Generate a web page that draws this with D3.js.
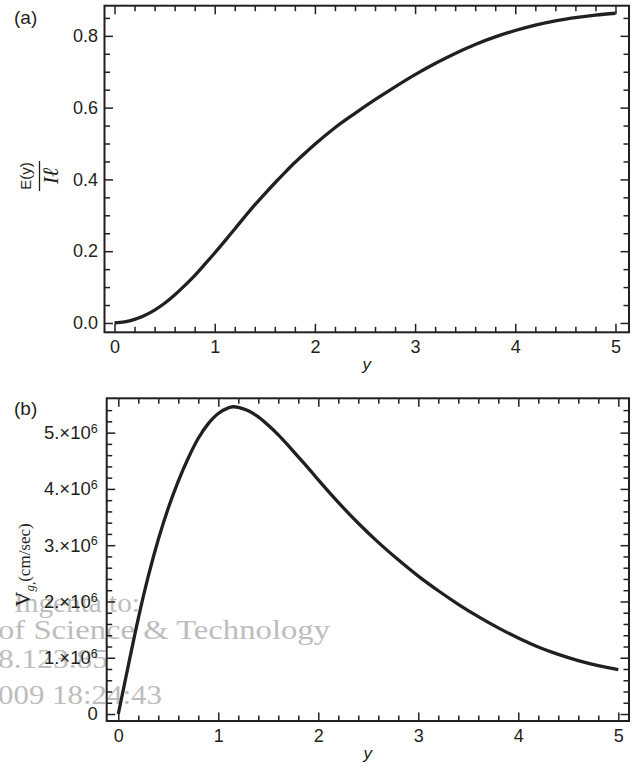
<!DOCTYPE html>
<meta charset="utf-8">
<style>
    body { margin: 0; background: #fff; }
    svg { display: block; font-family: "Liberation Sans", Arial, sans-serif; }
    .frame { fill: none; stroke: #231f20; stroke-width: 2px; }
    .curve { fill: none; stroke: #231f20; stroke-width: 3.3px; stroke-linejoin: round; stroke-linecap: butt; }
    .tick line { stroke: #231f20; stroke-width: 1.5px; }
    .tick text { font-size: 18px; fill: #231f20; font-family: "Liberation Sans", Arial, sans-serif; }
    .domain { display: none; }
    .wm { font-family: "Liberation Serif", "Times New Roman", serif; font-size: 28px; fill: #bdbdbd; }
</style>
<body>
<script src="https://d3js.org/d3.v7.min.js"></script>
<script>
    var width = 638, height = 767;

    // panel (a): E(y)/I vs y
    var yA = [0, 0.1, 0.2, 0.3, 0.4, 0.5, 0.6, 0.7, 0.8, 0.9, 1.0, 1.1, 1.2, 1.3, 1.4, 1.5, 1.6, 1.7, 1.8, 1.9, 2.0,
              2.2, 2.4, 2.6, 2.8, 3.0, 3.2, 3.4, 3.6, 3.8, 4.0, 4.2, 4.4, 4.6, 4.8, 5.0];
    var eA = [0, 0.003, 0.010, 0.021, 0.036, 0.055, 0.078, 0.104, 0.132, 0.163, 0.195, 0.228, 0.262, 0.296, 0.329,
              0.360, 0.390, 0.419, 0.447, 0.473, 0.498, 0.544, 0.584, 0.622, 0.658, 0.692, 0.723, 0.751, 0.776,
              0.797, 0.815, 0.830, 0.842, 0.851, 0.858, 0.863];

    // panel (b): group velocity Vg, in units of 1e6 cm/sec
    var yB = [0, 0.1, 0.2, 0.3, 0.4, 0.5, 0.6, 0.7, 0.8, 0.9, 1.0, 1.1, 1.15, 1.2, 1.3, 1.4, 1.5, 1.6, 1.7, 1.8, 1.9, 2.0,
              2.2, 2.4, 2.6, 2.8, 3.0, 3.2, 3.4, 3.6, 3.8, 4.0, 4.2, 4.4, 4.6, 4.8, 5.0];
    var vB = [0, 0.86, 1.70, 2.45, 3.10, 3.66, 4.14, 4.55, 4.90, 5.16, 5.34, 5.44, 5.46, 5.45, 5.39, 5.28, 5.13, 4.96,
              4.77, 4.57, 4.37, 4.16, 3.76, 3.39, 3.05, 2.74, 2.45, 2.19, 1.95, 1.73, 1.53, 1.35, 1.19, 1.06, 0.95,
              0.86, 0.79];

    var xTicks = [0, 1, 2, 3, 4, 5];
    var aTicks = [0, 0.2, 0.4, 0.6, 0.8];
    var bTicks = [0, 1, 2, 3, 4, 5];
    var bTickLabels = ["0", "1.\u00d710", "2.\u00d710", "3.\u00d710", "4.\u00d710", "5.\u00d710"];
    var bExponent = "6";
    var watermark = ["Ingenta to:", "of Science & Technology", "8.123.85", "009 18:24:43"];

    var svg = d3.select("body").append("svg")
        .attr("width", width)
        .attr("height", height);

    var xA = d3.scaleLinear().domain([-0.1, 5.135]).range([104.5, 629]);
    var sA = d3.scaleLinear().domain([-0.026, 0.884]).range([332.3, 5.7]);
    var xB = d3.scaleLinear().domain([-0.116, 5.107]).range([106.7, 629]);
    var sB = d3.scaleLinear().domain([-0.124, 5.61]).range([721, 398.3]);

    var minorX = d3.range(0, 5.001, 0.2).filter(function (v) { return Math.abs(v - Math.round(v)) > 1e-6; });
    var minorA = d3.range(0, 0.8501, 0.05).filter(function (v) { return Math.abs(v * 5 - Math.round(v * 5)) > 1e-6; });
    var minorB = d3.range(0, 5.4001, 0.2).filter(function (v) { return Math.abs(v - Math.round(v)) > 1e-6; });

    // watermark sits behind the plots
    var wm = svg.append("g");
    var wmPos = [[14, 612, 126], [-2, 639, 332], [-2, 668, 110], [-2, 704, 164]];
    watermark.forEach(function (s, i) {
        wm.append("text").attr("class", "wm")
            .attr("x", wmPos[i][0]).attr("y", wmPos[i][1])
            .attr("textLength", wmPos[i][2]).attr("lengthAdjust", "spacingAndGlyphs")
            .text(s);
    });

    function panel(x, y, yMajor, yMinor, yFmt, yPad) {
        var g = svg.append("g");
        var x0 = x.range()[0], x1 = x.range()[1], y0 = y.range()[0], y1 = y.range()[1];

        g.append("g").attr("transform", "translate(0," + y0 + ")")
            .call(d3.axisBottom(x).tickValues(xTicks).tickSize(-8.5).tickPadding(8).tickFormat(d3.format("d")));
        g.append("g").attr("transform", "translate(0," + y0 + ")")
            .call(d3.axisBottom(x).tickValues(minorX).tickSize(-5.5).tickFormat(""));
        g.append("g").attr("transform", "translate(0," + y1 + ")")
            .call(d3.axisTop(x).tickValues(xTicks).tickSize(-8.5).tickFormat(""));
        g.append("g").attr("transform", "translate(0," + y1 + ")")
            .call(d3.axisTop(x).tickValues(minorX).tickSize(-5.5).tickFormat(""));

        var left = g.append("g").attr("transform", "translate(" + x0 + ",0)")
            .call(d3.axisLeft(y).tickValues(yMajor).tickSize(-8.5).tickPadding(yPad).tickFormat(yFmt));
        g.append("g").attr("transform", "translate(" + x0 + ",0)")
            .call(d3.axisLeft(y).tickValues(yMinor).tickSize(-5.5).tickFormat(""));
        g.append("g").attr("transform", "translate(" + x1 + ",0)")
            .call(d3.axisRight(y).tickValues(yMajor).tickSize(-8.5).tickFormat(""));
        g.append("g").attr("transform", "translate(" + x1 + ",0)")
            .call(d3.axisRight(y).tickValues(yMinor).tickSize(-5.5).tickFormat(""));

        g.append("rect").attr("class", "frame")
            .attr("x", x0).attr("y", y1)
            .attr("width", x1 - x0).attr("height", y0 - y1);

        g.append("text")
            .attr("x", (x0 + x1) / 2).attr("y", y0 + 38)
            .attr("text-anchor", "middle")
            .style("font-size", "17px").style("font-style", "italic").style("fill", "#231f20")
            .text("y");
        return { g: g, left: left };
    }

    // (a)
    var pa = panel(xA, sA, aTicks, minorA, d3.format(".1f"), 6.5);
    pa.g.append("path").attr("class", "curve")
        .attr("d", d3.line().x(function (d, i) { return xA(yA[i]); })
            .y(function (d) { return sA(d); })
            .curve(d3.curveMonotoneX)(eA));

    // (b)
    var pb = panel(xB, sB, bTicks, minorB, function (d) { return d; }, 9);
    pb.left.selectAll(".tick text").each(function (d) {
        var t = d3.select(this).text("").style("font-size", "18.5px");
        t.append("tspan").text(bTickLabels[bTicks.indexOf(d)]);
        if (d !== 0) {
            t.append("tspan").attr("dy", "-0.5em").style("font-size", "12.5px").text(bExponent);
        }
    });
    pb.g.append("path").attr("class", "curve")
        .attr("d", d3.line().x(function (d, i) { return xB(yB[i]); })
            .y(function (d) { return sB(d); })
            .curve(d3.curveCatmullRom.alpha(0.5))(vB));

    // panel letters
    svg.append("text").attr("x", 14).attr("y", 24).style("font-size", "19px").style("fill", "#231f20").text("(a)");
    svg.append("text").attr("x", 14).attr("y", 415).style("font-size", "19px").style("fill", "#231f20").text("(b)");

    // y title (a): E(y) over I
    var ta = svg.append("g").attr("transform", "translate(39.5,176) rotate(-90)");
    ta.append("line").attr("x1", -15).attr("x2", 15).attr("y1", 0).attr("y2", 0)
        .attr("stroke", "#231f20").attr("stroke-width", 1.3);
    ta.append("text").attr("x", 0).attr("y", -9).attr("text-anchor", "middle")
        .style("font-size", "15px").style("fill", "#231f20").text("E(y)");
    ta.append("text").attr("x", 0).attr("y", 18.5).attr("text-anchor", "middle")
        .style("font-family", "'Liberation Serif', serif").style("font-style", "italic")
        .style("font-size", "22px").style("fill", "#231f20")
        .text("I\u2113");

    // y title (b): Vg (cm/sec)
    var tb = svg.append("text").attr("transform", "translate(30,565) rotate(-90)")
        .attr("text-anchor", "middle")
        .style("font-family", "'Liberation Serif', serif").style("fill", "#231f20");
    tb.append("tspan").style("font-size", "21px").text("V");
    tb.append("tspan").attr("dy", 4).style("font-style", "italic").style("font-size", "13px").text("g,");
    tb.append("tspan").attr("dy", -4).style("font-size", "17px").text("(cm/sec)");
</script>
</body>
